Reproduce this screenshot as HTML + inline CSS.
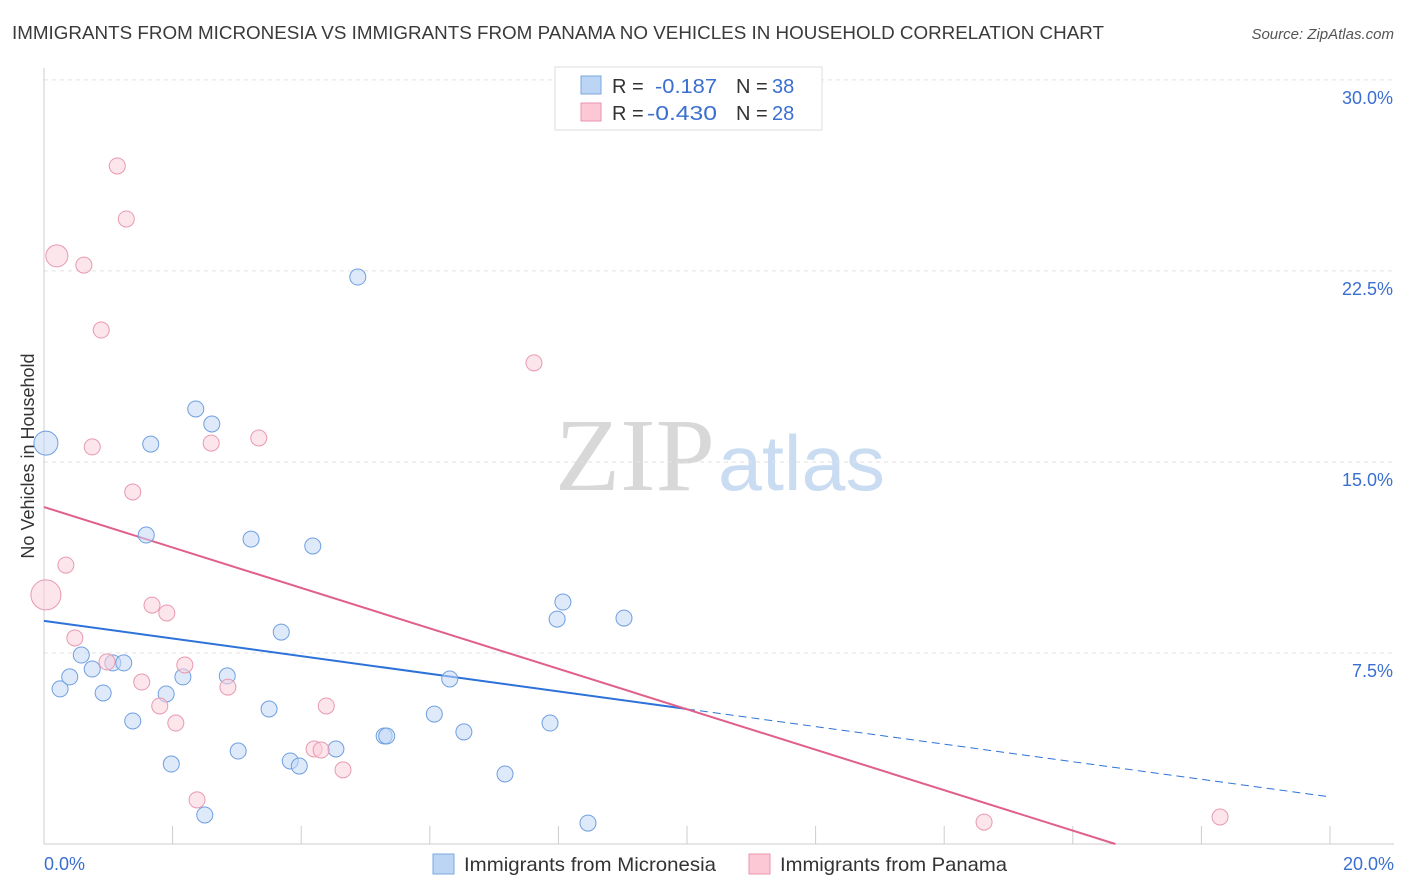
<!DOCTYPE html>
<html><head><meta charset="utf-8"><style>
body{margin:0;background:#fff;font-family:"Liberation Sans",sans-serif;}
svg{display:block}
</style></head><body>
<svg id="chart" width="1406" height="892">
<text x="12" y="39" font-size="18.5" textLength="1092" lengthAdjust="spacingAndGlyphs" fill="#3a3a3a">IMMIGRANTS FROM MICRONESIA VS IMMIGRANTS FROM PANAMA NO VEHICLES IN HOUSEHOLD CORRELATION CHART</text>
<text x="1394" y="39" font-size="15" fill="#555" text-anchor="end" font-style="italic">Source: ZipAtlas.com</text>
<g>
<text x="555" y="490" font-size="104" textLength="160" lengthAdjust="spacingAndGlyphs" fill="#d8d8d8" font-family="Liberation Serif,serif">ZIP</text>
<text x="718" y="490" font-size="78" textLength="167" lengthAdjust="spacingAndGlyphs" fill="#c9dcf2">atlas</text>
</g>
<g id="grid"></g><g id="axes"></g><g id="trend"></g><g id="pts"></g>
<text transform="translate(34,456) rotate(-90)" font-size="18" fill="#333" text-anchor="middle">No Vehicles in Household</text>
<g>
<rect x="555" y="67" width="267" height="63" fill="#fff" stroke="#ddd"/>
<rect x="581" y="76" width="20" height="18" fill="#bcd5f5" stroke="#7aa7e0"/>
<rect x="581" y="103" width="20" height="18" fill="#fcc8d6" stroke="#eb95ad"/>
<text x="612" y="93" font-size="20" fill="#333">R =</text>
<text x="655" y="93" font-size="20" fill="#3a6fd0" textLength="62" lengthAdjust="spacingAndGlyphs">-0.187</text>
<text x="736" y="93" font-size="20" fill="#333">N =</text>
<text x="772" y="93" font-size="20" fill="#3a6fd0">38</text>
<text x="612" y="120" font-size="20" fill="#333">R =</text>
<text x="647" y="120" font-size="20" fill="#3a6fd0" textLength="70" lengthAdjust="spacingAndGlyphs">-0.430</text>
<text x="736" y="120" font-size="20" fill="#333">N =</text>
<text x="772" y="120" font-size="20" fill="#3a6fd0">28</text>
</g>
<g>
<rect x="433" y="854" width="21" height="20" fill="#bcd5f5" stroke="#7aa7e0"/>
<text x="464" y="871" font-size="19.5" fill="#333" textLength="252" lengthAdjust="spacingAndGlyphs">Immigrants from Micronesia</text>
<rect x="749" y="854" width="21" height="20" fill="#fcc8d6" stroke="#eb95ad"/>
<text x="780" y="871" font-size="19.5" fill="#333" textLength="227" lengthAdjust="spacingAndGlyphs">Immigrants from Panama</text>
</g>
</svg>
<script>
const blueX=[0.03,0.25,0.40,0.58,0.75,0.92,1.07,1.24,1.38,1.59,1.66,1.90,1.98,2.16,2.36,2.50,2.61,2.85,3.02,3.22,3.50,3.69,3.83,3.97,4.18,4.54,4.88,5.29,5.33,6.07,6.31,6.53,7.17,7.87,7.98,8.07,8.46,9.02];
const blueY=[15.74,6.09,6.56,7.42,6.87,5.93,7.11,7.11,4.83,12.13,15.70,5.89,3.14,6.56,17.08,1.14,16.49,6.60,3.65,11.97,5.30,8.32,3.26,3.06,11.70,3.73,22.26,4.24,4.24,5.10,6.48,4.40,2.75,4.75,8.83,9.50,0.82,8.87];
const pinkX=[0.03,0.20,0.34,0.48,0.62,0.89,0.75,0.98,1.14,1.28,1.38,1.52,1.68,1.80,1.91,2.05,2.19,2.38,2.60,2.86,3.34,4.20,4.31,4.39,4.65,7.62,14.62,18.29];
const pinkY=[9.78,23.09,10.95,8.09,22.73,20.18,15.59,7.15,26.62,24.54,13.82,6.36,9.38,5.42,9.07,4.75,7.03,1.73,15.74,6.16,15.94,3.73,3.69,5.42,2.91,18.89,0.86,1.06];
const yTicks=[7.5,15,22.5,30];
const yTickLabels=["7.5%","15.0%","22.5%","30.0%"];
const xTicks=[0,2,4,6,8,10,12,14,16,18,20];
const blueTrend=[8.76,5.30,1.85];
const pinkTrend=[13.23,-0.794];
const X0=44,X1=1330,Y0=844,YPER=25.47;
const sx=v=>X0+(X1-X0)*v/20, sy=v=>Y0-v*YPER;
const NS="http://www.w3.org/2000/svg";
function mk(t,a,p){const e=document.createElementNS(NS,t);for(const k in a)e.setAttribute(k,a[k]);p.appendChild(e);return e;}
const grid=document.getElementById('grid'),axes=document.getElementById('axes'),trend=document.getElementById('trend'),pts=document.getElementById('pts');
yTicks.forEach((v,i)=>{
 const l=mk('line',{x1:X0,x2:1394,y1:sy(v),y2:sy(v),stroke:'#e2e2e2','stroke-dasharray':'4,4'},grid);
 
 
 const t=mk('text',{x:1393,y:sy(v)+24,'font-size':18,fill:'#3a6fd0','text-anchor':'end'},grid);t.textContent=yTickLabels[i];
 
 
});
const ax=mk('line',{x1:X0,x2:1394,y1:Y0,y2:Y0,stroke:'#ccc'},axes);


const ay=mk('line',{x1:X0,x2:X0,y1:68,y2:Y0,stroke:'#ccc'},axes);


xTicks.forEach(v=>{const t=mk('line',{x1:sx(v),x2:sx(v),y1:826,y2:Y0,stroke:'#ccc'},axes);
 
 });
const xl0=mk('text',{x:44,y:870,'font-size':18,fill:'#3a6fd0'},axes);xl0.textContent="0.0%";


const xl1=mk('text',{x:1394,y:870,'font-size':18,fill:'#3a6fd0','text-anchor':'end'},axes);xl1.textContent="20.0%";


function dot(x,y,r,f,s,name){const c=mk('circle',{cx:sx(x),cy:sy(y),r:r,fill:f,'fill-opacity':0.55,stroke:s,'stroke-width':1},pts);
 
 }
blueX.forEach((x,i)=>dot(x,blueY[i],i===0?12:8,'#c2d8f5','#6f9fe0','micronesia-point'));
pinkX.forEach((x,i)=>dot(x,pinkY[i],i===0?15:(i===1?11:8),'#fcd0dc','#e899b0','panama-point'));
const b1=mk('line',{x1:sx(0),y1:sy(blueTrend[0]),x2:sx(10),y2:sy(blueTrend[1]),stroke:'#2d72d9','stroke-width':2},trend);


const b2=mk('line',{x1:sx(10),y1:sy(blueTrend[1]),x2:sx(20),y2:sy(blueTrend[2]),stroke:'#2d72d9','stroke-width':1,'stroke-dasharray':'8,5'},trend);


const xe=-pinkTrend[0]/pinkTrend[1];
const p1=mk('line',{x1:sx(0),y1:sy(pinkTrend[0]),x2:sx(xe),y2:sy(0),stroke:'#e0608a','stroke-width':2},trend);


</script>
</body></html>
